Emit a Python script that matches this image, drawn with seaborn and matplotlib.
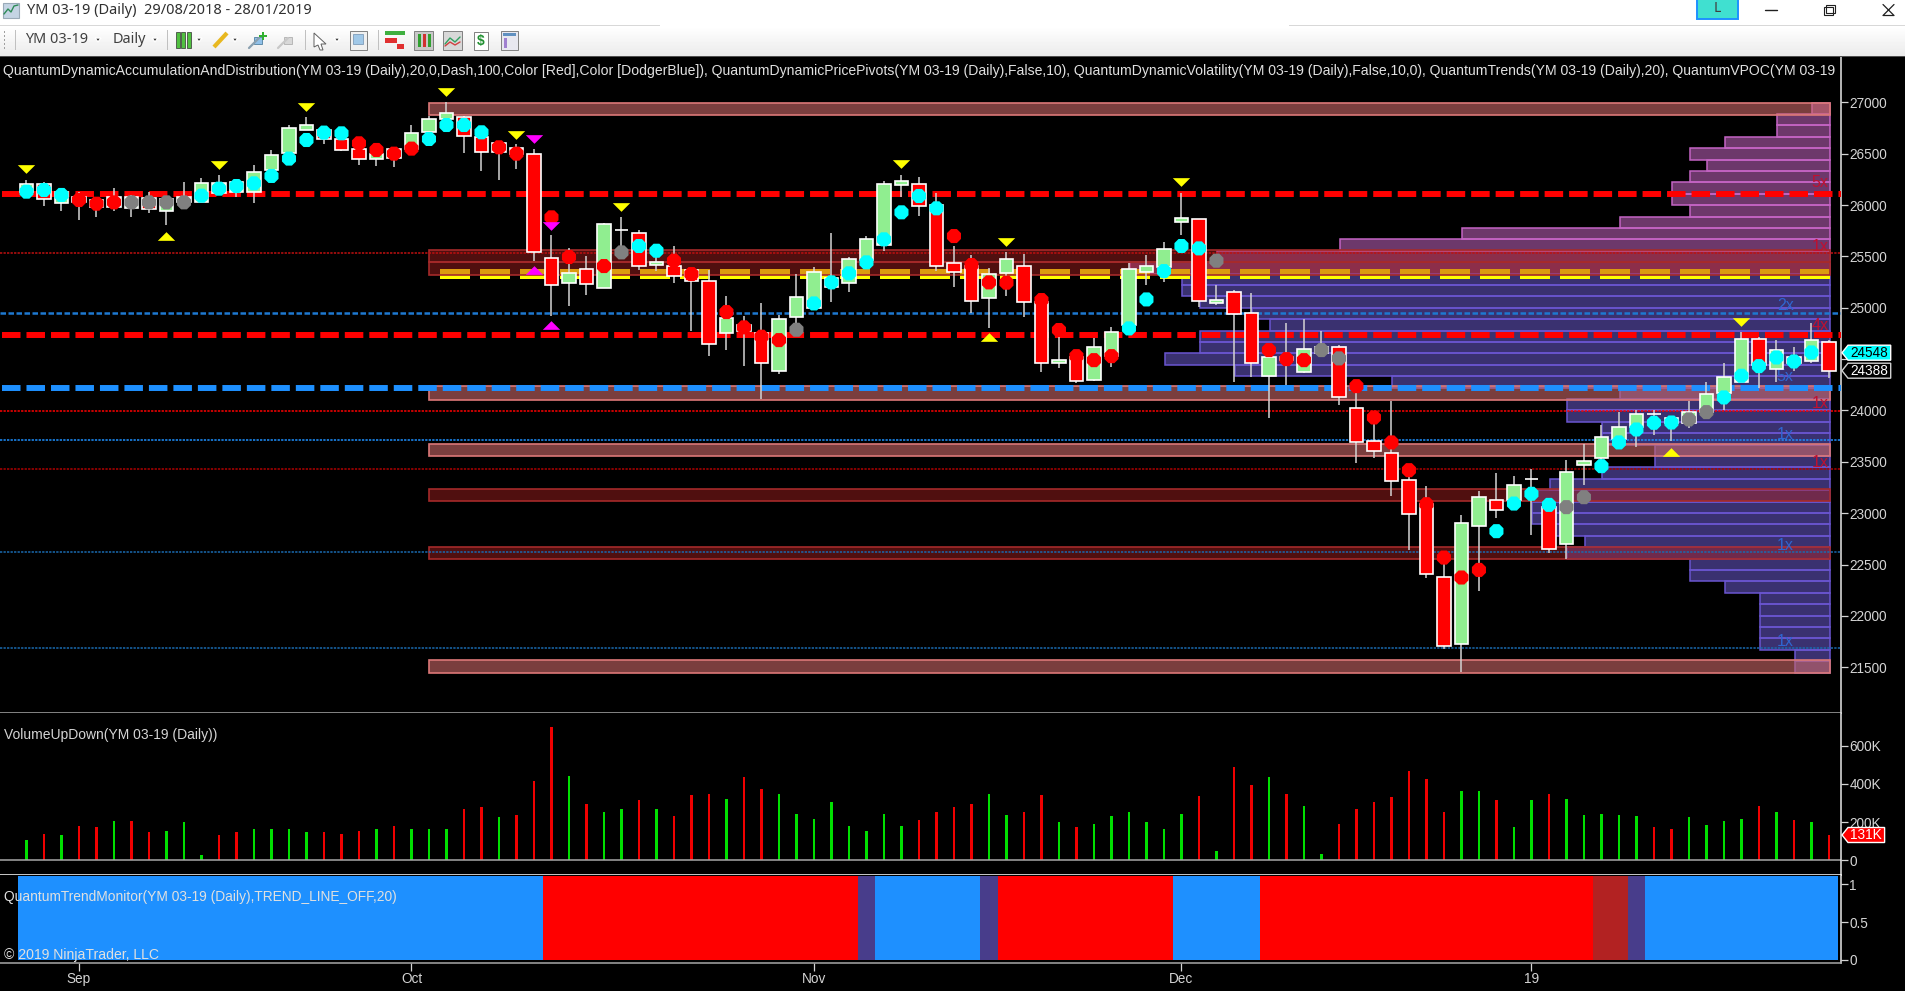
import numpy as np
import pandas as pd
import seaborn as sns
import matplotlib
matplotlib.use("Agg")
import matplotlib.pyplot as plt
from matplotlib.patches import Rectangle, Polygon

W, H = 1906, 991

# candles
open_ = [26130,26205,26016,26081,26049,26081,25968,26065,25945,26033,26033,26114,26130,26127,26341,26503,26734,26731,26640,26546,
         26445,26546,26542,26711,26835,26861,26666,26607,26555,26497,25481,25237,25374,25195,25760,25731,25416,25406,25367,25263,
         24757,24831,24750,24387,24913,24994,25205,25237,25465,25611,26198,26205,26000,25439,25406,25091,25335,25409,25059,24458,
         24516,24296,24529,24831,25351,25400,25835,25864,25042,25156,24945,24338,24523,24370,24620,24614,24026,23705,23588,23322,
         23094,22380,21731,22877,23124,23127,23331,23062,22705,23474,23533,23727,23841,23961,23874,23874,23987,24166,24280,24695,
         24400,24458,24484,24669]
high = [26244,26221,26156,26130,26065,26163,26098,26124,26091,26221,26260,26292,26253,26390,26536,26776,26854,26763,26747,26650,
        26607,26552,26779,26867,27000,26870,26747,26617,26594,26546,25708,25578,25503,25828,25880,25757,25611,25601,25367,25367,
        25114,24919,25042,24929,25328,25393,25724,25497,25698,26234,26292,26270,26120,25601,25513,25383,25539,25523,25124,24848,
        24588,24701,24809,25432,25513,25637,26120,25864,25221,25172,25146,24620,24854,24887,24776,24637,24182,23987,24091,23370,
        23263,22510,22981,23214,23387,23361,23435,23094,23516,23672,23857,23981,24003,24003,23938,24091,24273,24458,24766,24711,
        24685,24614,24848,24685]
low = [26065,25990,25942,25854,25880,25942,25880,25919,25805,25968,26033,26098,26081,26016,26325,26487,26731,26594,26526,26390,
       26383,26367,26536,26698,26822,26503,26331,26244,26354,25458,24922,25020,25124,25189,25481,25367,25361,25237,24776,24529,
       24588,24432,24107,24351,24848,24994,25052,25150,25448,25555,26081,25893,25361,25198,24945,24799,25114,24906,24370,24409,
       24263,24286,24419,24750,25221,25247,25708,25010,25026,24273,24328,23922,24247,24361,24523,24052,23484,23533,23166,22640,
       22374,21682,21455,22244,22955,23046,22786,22617,22559,23279,23403,23630,23640,23760,23701,23825,23922,24003,24280,24215,
       24273,24387,24458,24312]
close = [26205,26055,26130,26026,25984,25984,26081,25958,26059,26081,26218,26218,26228,26325,26484,26750,26776,26640,26539,26445,
         26497,26455,26702,26835,26893,26676,26513,26516,26494,25546,25218,25335,25231,25815,25760,25409,25448,25312,25263,24643,
         24903,24776,24458,24890,25107,25351,25286,25471,25669,26205,26231,25994,25409,25351,25068,25325,25471,25059,24458,24490,
         24289,24620,24766,25374,25409,25568,25877,25068,25075,24939,24458,24516,24490,24598,24555,24133,23695,23607,23315,22997,
         22412,21708,22906,23159,23036,23273,23331,22656,23403,23513,23744,23841,23961,23961,23922,23987,24156,24328,24695,24442,
         24588,24523,24685,24386]

# signal dots, state c = cyan, r = red, g = grey, n = no dot
dot_price = [26130,26146,26098,26049,26013,26026,26026,26026,26026,26026,26091,26159,26185,26211,26283,26452,26633,26705,26698,26601,
             26536,26500,26549,26643,26779,26779,26708,26562,26500,None,25880,25494,None,25406,25539,25601,25555,25458,25328,None,
             24958,24809,24718,24685,24786,25042,25247,25335,25442,25666,25929,26088,25968,25698,25416,25247,25244,None,25075,24783,
             24529,24490,24529,24799,25081,25357,25601,25578,25458,None,None,24588,24500,24490,24588,24507,24237,23932,23689,23419,
             23088,22568,22374,22448,22825,23094,23189,23081,23059,23156,23458,23689,23815,23880,23883,23913,23984,24127,24338,24432,
             24516,24477,24565,None]
dot_state = list("cccrrrgggg" "cccccccccr" "rrrccccrrn" "rrnrgccrrn" "rrrrgccccc"
                 "cccrrrrnrr" "rrrcccccgn" "nrrrggrrrr" "rrrrccccgg" "cccccggccc" "cccn")

# pivots
tri_down_idx = [0, 11, 16, 24, 28, 34, 50, 56, 66, 98]
tri_down_price = [26348, 26393, 26952, 27101, 26685, 25977, 26396, 25643, 26228, 24861]
tri_up_idx = [8, 55, 94]
tri_up_price = [25698, 24718, 23598]
magenta_down_idx = [29, 30]
magenta_down_price = [26640, 25796]
magenta_up_idx = [29, 30]
magenta_up_price = [25367, 24828]

# volume in thousands
volume = [106,140,133,178,173,204,204,146,152,199,28,133,146,166,166,166,146,146,140,152,
          166,178,166,166,166,270,277,225,237,415,696,441,296,251,270,316,270,230,342,349,
          323,434,375,349,244,218,303,178,152,244,178,211,251,277,296,349,237,251,342,199,
          173,192,230,251,199,166,244,337,47,487,394,434,349,283,35,192,270,303,330,467,
          427,251,363,363,316,173,316,349,323,237,244,237,230,173,166,225,185,204,218,283,
          251,211,199,133]
volume_dir = list("grgrrgrrgg" "grrggggrrr" "grgggrrgrr" "rgrggr"
                  "grrrgrrggg" "gggggrrrrg" "grrgrggggg" "grgrrg"
                  "rggrrrrrrr" "ggrggrgggg" "grrggggrgr" "gr")

# trend monitor state per bar
trend_state = ["up"]*30 + ["down"]*18 + ["flat"] + ["up"]*6 + ["flat"] + ["down"]*10 + ["up"]*5 + ["down"]*19 + ["weak"]*2 + ["flat"] + ["up"]*11
trend_level = [1.115]*104

# volume profile, count of bars per price row
profile_price = [26942,26831,26720,26609,26498,26387,26276,26165,26054,25943,25832,25721,25610,25499,25388,25277,25166,25055,24944,24833,
                 24722,24611,24500,24389,24278,24167,24056,23945,23834,23723,23612,23501,23390,23279,23168,23057,22946,22835,22724,22613,
                 22502,22391,22280,22169,22058,21947,21836,21725,21614,21503]
profile_count = [1,3,3,6,8,7,8,9,9,8,12,21,28,35,40,37,37,36,33,32,36,36,38,34,25,12,15,15,13,13,10,10,13,16,17,17,17,16,14,15,8,8,6,4,4,4,4,4,2,2]
profile_upper_rows = 15

# supply and demand zones
zone_top = [26997, 25562, 25448, 24237, 23672, 23234, 22672, 21568]
zone_bottom = [26880, 25448, 25318, 24101, 23555, 23117, 22555, 21448]
zone_kind = ["light", "dark", "dark", "light", "light", "dark", "dark", "light"]

price_ticks = [21500,22000,22500,23000,23500,24000,24500,25000,25500,26000,26500,27000]
# 24500 sits behind the last value tags
price_tick_labels = ["21500","22000","22500","23000","23500","24000","","25000","25500","26000","26500","27000"]
vol_ticks = [0, 200, 400, 600]
vol_tick_labels = ["0", "200K", "400K", "600K"]
trend_ticks = [0, 0.5, 1]
date_ticks = [3, 22, 45, 66, 86]
date_labels = ["Sep", "Oct", "Nov", "Dec", "19"]

mult_idx = [102.5, 102.5, 100.5, 102.5, 100.5, 102.5, 100.5, 102.5, 100.5, 100.5]
mult_price = [26218, 25594, 25026, 24831, 24335, 24068, 23766, 23490, 22689, 21750]
mult_text = ["5x", "1x", "2x", "4x", "5x", "1x", "1x", "1x", "1x", "1x"]
mult_col = ["r", "r", "b", "r", "b", "r", "b", "r", "b", "b"]

sns.set_theme(style="dark", rc={"figure.facecolor": "black", "axes.facecolor": "black"})
plt.rcParams["font.family"] = ["Liberation Sans", "DejaVu Sans"]
plt.rcParams["lines.dash_capstyle"] = "butt"

idx = np.arange(104)
XMIN, XMAX = -1.514, 103.69
PROFILE_RIGHT = 103.05
GREY = "#D4D4D4"

fig = plt.figure(figsize=(W/100, H/100), dpi=100, facecolor="black")


def panel(y0, y1):
    return fig.add_axes([0, 1 - y1/H, 1841/W, (y1 - y0)/H])


ax = panel(57, 713)
ax_vol = panel(713, 875)
ax_trend = panel(875, 962.7)

# profile
ax.barh(profile_price[:profile_upper_rows], profile_count[:profile_upper_rows], height=111,
        left=[PROFILE_RIGHT - c for c in profile_count[:profile_upper_rows]],
        color=(218/255, 112/255, 214/255, 0.5), edgecolor="#C464C4", linewidth=1.1, zorder=1)
ax.barh(profile_price[profile_upper_rows:], profile_count[profile_upper_rows:], height=111,
        left=[PROFILE_RIGHT - c for c in profile_count[profile_upper_rows:]],
        color=(106/255, 90/255, 205/255, 0.55), edgecolor="#6A55D0", linewidth=1.1, zorder=1)

# VPOC dash sits below the zones
ax.plot([23.63, PROFILE_RIGHT], [25325, 25325], color="#FFFF00", lw=7.2, dashes=(3.0, 1.0), zorder=1.5)

for t, b, k in zip(zone_top, zone_bottom, zone_kind):
    if k == "light":
        face, edge = (205/255, 105/255, 105/255, 0.6), "#DC7878"
    else:
        face, edge = (178/255, 34/255, 34/255, 0.45), "#A52A2A"
    ax.add_patch(Rectangle((23.0, b), PROFILE_RIGHT - 23.0, t - b, facecolor=face, edgecolor=edge, lw=1.2, zorder=2))

# levels
ax.plot([XMIN + 0.1, XMAX], [26104, 26104], color="#FF0000", lw=4.3, dashes=(3.1, 1.0), zorder=3)
ax.plot([XMIN + 0.1, XMAX], [24731, 24731], color="#FF0000", lw=4.3, dashes=(3.1, 1.0), zorder=3)
ax.plot([XMIN + 0.1, XMAX], [24218, 24218], color="#1E90FF", lw=4.3, dashes=(3.1, 1.0), zorder=3)
ax.plot([XMIN, XMAX], [24948, 24948], color="#1E78D0", lw=1.8, dashes=(2.2, 1.0), zorder=3)
ax.plot([XMIN, XMAX], [25533, 25533], color="#C01010", lw=1.1, dashes=(1.5, 0.8), zorder=3)
ax.plot([XMIN, XMAX], [23997, 23997], color="#FF0000", lw=1.1, dashes=(1.5, 0.8), zorder=3)
ax.plot([XMIN, XMAX], [23708, 23708], color="#1E90FF", lw=1.1, dashes=(1.5, 0.8), zorder=3)
ax.plot([XMIN, XMAX], [23429, 23429], color="#B00000", lw=1.1, dashes=(1.5, 0.8), zorder=3)
ax.plot([XMIN, XMAX], [22624, 22624], color="#1A6AB0", lw=1.1, dashes=(1.5, 0.8), zorder=3)
ax.plot([XMIN, XMAX], [21685, 21685], color="#1A6AB0", lw=1.1, dashes=(1.5, 0.8), zorder=3)

for i, p, s, c in zip(mult_idx, mult_price, mult_text, mult_col):
    ax.text(i, p, s, color="#C01030" if c == "r" else "#2F66D0", fontsize=11.5, ha="center", va="center", zorder=3)

# candles
o = np.array(open_)
c = np.array(close)
ax.vlines(idx, low, high, color=GREY, lw=1.1, zorder=4)
ax.bar(idx, np.abs(c - o), width=0.76, bottom=np.minimum(o, c),
       color=["#90EE90" if b >= a else "#FF0000" for a, b in zip(o, c)],
       edgecolor="white", linewidth=1.2, zorder=4.1)

dots = pd.DataFrame({"idx": idx, "price": dot_price, "state": dot_state}).dropna()
sns.scatterplot(data=dots, x="idx", y="price", hue="state",
                palette={"c": "#00FFFF", "r": "#FF0000", "g": "#808080"},
                marker="8", s=120, linewidth=0, legend=False, ax=ax, zorder=5)

down_marker = [(-1, 0.5), (1, 0.5), (0, -0.5)]
up_marker = [(-1, -0.5), (1, -0.5), (0, 0.5)]
ax.plot(tri_down_idx, tri_down_price, ls="none", marker=down_marker, ms=12.5, color="#FFFF00", mew=0, zorder=6)
ax.plot(tri_up_idx, tri_up_price, ls="none", marker=up_marker, ms=12.5, color="#FFFF00", mew=0, zorder=6)
ax.plot(magenta_down_idx, magenta_down_price, ls="none", marker=down_marker, ms=12.5, color="#FF00FF", mew=0, zorder=6)
ax.plot(magenta_up_idx, magenta_up_price, ls="none", marker=up_marker, ms=12.5, color="#FF00FF", mew=0, zorder=6)

ax.set_ylim(21055, 27441)
ax.set_yticks(price_ticks)
ax.set_yticklabels(price_tick_labels)

# volume panel
vol_df = pd.DataFrame({"idx": idx, "volume": volume, "dir": volume_dir})
sns.barplot(data=vol_df, x="idx", y="volume", hue="dir", palette={"g": "#00E000", "r": "#F00000"},
            native_scale=True, dodge=False, width=0.14, saturation=1, linewidth=0, legend=False, ax=ax_vol)
ax_vol.axhline(0, color="#A8A8A8", lw=1.1)
ax_vol.set_ylim(-77, 771)
ax_vol.set_yticks(vol_ticks)
ax_vol.set_yticklabels(vol_tick_labels)

# trend monitor panel
trend_df = pd.DataFrame({"idx": idx, "level": trend_level, "state": trend_state})
sns.barplot(data=trend_df, x="idx", y="level", hue="state",
            palette={"up": "#1E90FF", "down": "#FF0000", "flat": "#483D8B", "weak": "#B22222"},
            native_scale=True, dodge=False, width=1.0, saturation=1, linewidth=0, legend=False, ax=ax_trend)
ax_trend.set_ylim(-0.04, 1.124)
ax_trend.set_yticks(trend_ticks)
ax_trend.set_yticklabels(["0", "0.5", "1"])
ax_trend.set_xticks(date_ticks)
ax_trend.set_xticklabels(date_labels)

for a in (ax, ax_vol, ax_trend):
    a.set_xlim(XMIN, XMAX)
    a.set_xlabel("")
    a.set_ylabel("")
    a.grid(False)
    a.yaxis.tick_right()
    a.tick_params(axis="y", colors=GREY, labelsize=9.8, length=5, width=0.9, pad=1, left=False, right=True)
    for s in a.spines.values():
        s.set_visible(False)
    a.spines["right"].set_visible(True)
    a.spines["right"].set_color("#E8E8E8")
    a.spines["right"].set_linewidth(1.1)
    a.spines["bottom"].set_visible(True)
    a.spines["bottom"].set_linewidth(1.1)
ax.spines["bottom"].set_color("#A8A8A8")
ax_vol.spines["bottom"].set_color("white")
ax_trend.spines["bottom"].set_color("#A8A8A8")
ax.set_xticks([])
ax_vol.set_xticks([])
ax_trend.tick_params(axis="x", colors=GREY, labelsize=9.8, length=5.5, width=0.9, pad=1.5, bottom=True)

# window furniture and overlay labels, in pixels
top = fig.add_axes([0, 0, 1, 1], zorder=20)
top.set_axis_off()
top.patch.set_alpha(0)
top.imshow(np.linspace(1, 0.92, 30).reshape(-1, 1), extent=(0, W, 56, 26), cmap="gray", vmin=0, vmax=1, aspect="auto")
top.set_xlim(0, W)
top.set_ylim(H, 0)


def box(x, y, w, h, face, edge="none", lw=0.8):
    top.add_patch(Rectangle((x, y), w, h, facecolor=face, edgecolor=edge, lw=lw))


def label(x, y, s, color=GREY, size=9.8, ha="left", **kw):
    top.text(x, y, s, color=color, fontsize=size, ha=ha, va="center", **kw)


def tag(x0, x1, y, s, face, text):
    top.add_patch(Polygon([(x0, y), (x0 + 6, y - 7.5), (x1, y - 7.5), (x1, y + 7.5), (x0 + 6, y + 7.5)],
                          facecolor=face, edgecolor="white" if face != "black" else "#D0D0D0", lw=1.0))
    top.text((x0 + 6 + x1)/2, y, s, color=text, fontsize=9.8, ha="center", va="center")


box(0, 0, W, 26, "white")
box(0, 55.5, W, 1.2, "#505050")
box(0, 25, 660, 0.8, "#D8D8D8")
box(1289, 25, 617, 0.8, "#D8D8D8")

# title bar
box(3, 3, 16, 15, "#C4D4E4", "#9AAAB8")
top.plot([4, 8, 11, 14, 18], [14, 9, 12, 6, 5], color="#2E8B57", lw=1)
label(27, 11, "YM 03-19 (Daily)  29/08/2018 - 28/01/2019", color="#303030", size=10.47, family="Noto Sans")
box(1697, -1, 41, 20, "#40E0D0", "#1E90FF", 1.4)
label(1717.5, 8, "L", color="#404040", size=10, ha="center", family="Noto Sans")
top.plot([1765, 1777], [9.5, 9.5], color="#202020", lw=1)
box(1824, 7, 9, 8, "white", "#202020", 0.8)
box(1826.5, 4.5, 9, 8, "none", "#202020", 0.8)
top.plot([1883, 1894, 1883, 1894], [4.5, 15.5, 15.5, 4.5], color="#202020", lw=0.9)

# toolbar
for y in (31, 35, 39, 43, 47):
    box(4, y, 1.5, 1.5, "#A0A0A0")
label(25, 39.5, "YM 03-19", color="#404040", size=10.4, family="Noto Sans")
label(113, 39.5, "Daily", color="#404040", size=10.4, family="Noto Sans")
for x in (98, 155, 199, 235, 337):
    top.add_patch(Polygon([(x - 3, 38), (x + 3, 38), (x, 42)], facecolor="#303030"))
for x in (15.5, 167.5, 305, 378):
    box(x, 30, 0.8, 20, "#C0C0C0")
for x0 in (176, 181.5, 187):
    box(x0, 32, 4, 16, "#50C040", "#303030", 0.5)
top.plot([214, 227], [47, 33], color="#E8B820", lw=3, solid_capstyle="butt")
top.plot([249, 259], [48, 38], color="#8AA0B0", lw=1.6)
box(254, 37, 8, 7, "#90C0E8", "#5080A0", 0.6)
box(262, 32, 2, 8, "#30B030")
box(259, 35, 8, 2, "#30B030")
top.plot([278, 288], [48, 38], color="#C8C8C8", lw=1.6)
box(284, 37, 8, 7, "#D8D8D8", "#B0B0B0", 0.6)
top.add_patch(Polygon([(314, 33), (326, 44), (321, 44), (323, 50), (320, 50), (318, 45), (314, 47)],
                      facecolor="white", edgecolor="#606060", lw=0.7))
box(350, 31, 17, 19, "#F0F0F0", "#808080", 0.7)
box(353, 34, 10, 10, "#A0C8E8", "#7090B0", 0.5)
box(385, 31, 20, 4, "#40B040")
box(385, 38, 12, 5, "#E03030")
box(397, 44, 7, 5, "#E03030")
for x1, col in ((414, "#C8C8C8"), (443, "#D8D8D8")):
    box(x1, 31, 19, 19, col, "#808080", 0.7)
for x0, col in ((418, "#30A030"), (423, "#D03030"), (428, "#30A030")):
    box(x0, 34, 3, 13, col)
top.plot([445, 450, 455, 460], [44, 38, 42, 37], color="#30A060", lw=1)
top.plot([445, 450, 455, 460], [46, 42, 45, 42], color="#D04040", lw=1)
box(474, 32, 14, 18, "white", "#808080", 0.7)
label(481, 41, "$", color="#209030", size=10, ha="center", weight="bold")
box(501, 31, 17, 19, "#E8E8F0", "#808080", 0.7)
box(503, 33, 13, 3, "#6090C0")
box(504, 38, 3, 10, "#A080D0")

# indicator captions
label(3, 71.5, "QuantumDynamicAccumulationAndDistribution(YM 03-19 (Daily),20,0,Dash,100,Color [Red],Color [DodgerBlue]), "
      "QuantumDynamicPricePivots(YM 03-19 (Daily),False,10), QuantumDynamicVolatility(YM 03-19 (Daily),False,10,0), "
      "QuantumTrends(YM 03-19 (Daily),20), QuantumVPOC(YM 03-19", color="#E0E0E0", size=10.08)
label(4, 735, "VolumeUpDown(YM 03-19 (Daily))", size=10)
label(4, 897.5, "QuantumTrendMonitor(YM 03-19 (Daily),TREND_LINE_OFF,20)", color="#E0E0E0", size=9.95)
label(4, 955, "\u00a9 2019 NinjaTrader, LLC", color="#E0E0E0", size=10.1)

# last value tags
tag(1842, 1890.7, 352.7, "24548", "#00FFFF", "black")
tag(1842, 1890.7, 370.7, "24388", "black", "white")
tag(1842, 1884.6, 835, "131K", "#FF0000", "white")

fig.savefig("out.png", dpi=100, facecolor="black")
